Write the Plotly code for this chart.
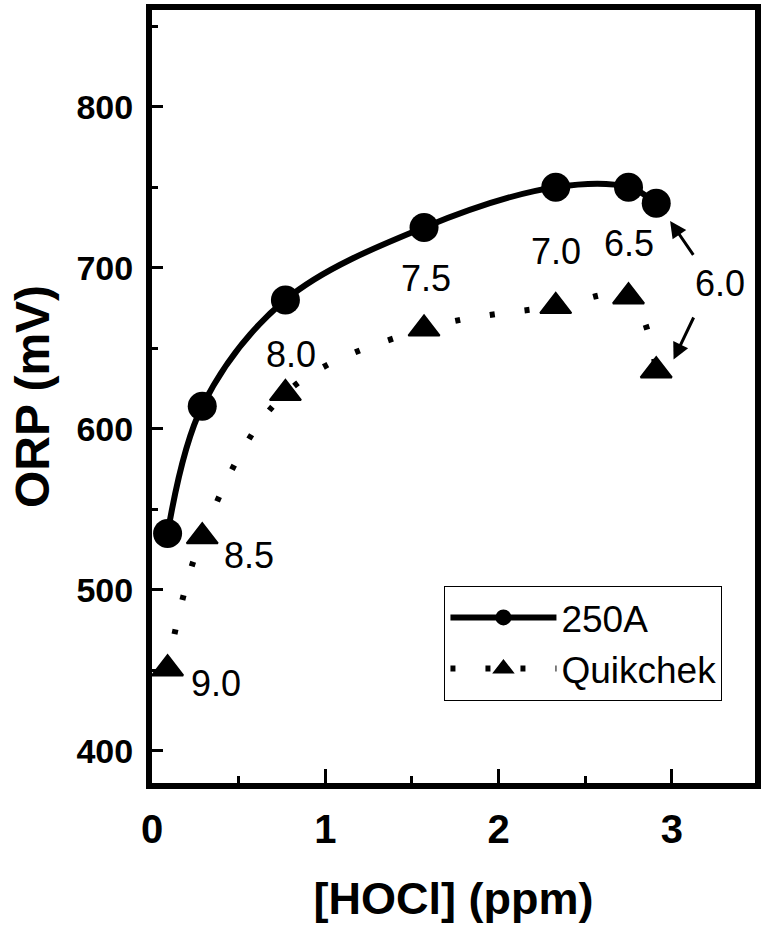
import plotly.graph_objects as go

# ---- data ----
hocl_ppm = [0.09, 0.29, 0.77, 1.57, 2.33, 2.75, 2.91]
orp_250a = [535, 614, 680, 725, 750, 750, 740]
orp_quikchek = [451, 533, 622, 662, 676, 682, 636]
ph_labels = ["9.0", "8.5", "8.0", "7.5", "7.0", "6.5", "6.0"]

# label anchor positions (data units)
label_x = [0.37, 0.56, 0.80, 1.58, 2.33, 2.75, 3.28]
label_y = [442, 521, 646, 693, 710, 715, 690]

# arrows for the 6.0 label: (head x, head y, tail x, tail y)
arrow_head_x = [2.99, 3.01]
arrow_head_y = [729, 643]
arrow_tail_x = [3.13, 3.13]
arrow_tail_y = [707, 670]

FONT = "Arial, Liberation Sans, Helvetica, sans-serif"

fig = go.Figure()
fig.add_trace(go.Scatter(
    x=hocl_ppm, y=orp_250a, name="250A", mode="lines+markers",
    line=dict(color="black", width=6, shape="spline", smoothing=1.0),
    marker=dict(symbol="circle", size=29, color="black"),
))
fig.add_trace(go.Scatter(
    x=hocl_ppm, y=orp_quikchek, name="Quikchek", mode="lines+markers",
    line=dict(color="black", width=6, shape="spline", smoothing=1.0, dash="5px,30px"),
    marker=dict(symbol="triangle-up", size=27, color="black",
                line=dict(color="black", width=2)),
))

annotations = []
for t, lx, ly in zip(ph_labels, label_x, label_y):
    annotations.append(dict(x=lx, y=ly, xref="x", yref="y", text=t, showarrow=False,
                            font=dict(family=FONT, size=36, color="black")))
for hx, hy, tx, ty in zip(arrow_head_x, arrow_head_y, arrow_tail_x, arrow_tail_y):
    annotations.append(dict(x=hx, y=hy, xref="x", yref="y", ax=tx, ay=ty,
                            axref="x", ayref="y", text="", showarrow=True,
                            arrowhead=2, arrowsize=1.1, arrowwidth=3,
                            arrowcolor="black"))

fig.update_layout(
    width=765, height=932,
    margin=dict(l=152, r=4, t=8, b=149),
    paper_bgcolor="white", plot_bgcolor="white",
    font=dict(family=FONT, color="black"),
    showlegend=True,
    legend=dict(x=0.485, y=0.255, xanchor="left", yanchor="top",
                bordercolor="black", borderwidth=1, bgcolor="white",
                itemwidth=106,
                font=dict(family=FONT, size=37, color="black")),
    annotations=annotations,
)
fig.update_xaxes(
    range=[0, 3.48], dtick=1, tick0=0,
    showline=True, linecolor="black", linewidth=6, mirror=True,
    ticks="inside", ticklen=14, tickwidth=3, tickcolor="black",
    minor=dict(ticks="inside", dtick=0.5, ticklen=7, tickwidth=3, tickcolor="black"),
    showgrid=False, zeroline=False,
    tickfont=dict(family=FONT, size=40, weight="bold"),
    ticklabelstandoff=6,
    title=dict(text="[HOCl] (ppm)", font=dict(family=FONT, size=45, weight="bold"), standoff=34),
)
fig.update_yaxes(
    range=[380, 860], dtick=100, tick0=400,
    showline=True, linecolor="black", linewidth=6, mirror=True,
    ticks="inside", ticklen=11, tickwidth=3, tickcolor="black",
    minor=dict(ticks="inside", dtick=50, ticklen=6, tickwidth=3, tickcolor="black"),
    showgrid=False, zeroline=False,
    tickfont=dict(family=FONT, size=34, weight="bold"),
    ticklabelstandoff=6,
    title=dict(text="ORP (mV)", font=dict(family=FONT, size=48, weight="bold"), standoff=14),
)

fig.write_html("out.html", config={"displayModeBar": False},
               post_script="document.body.style.margin='0';")
